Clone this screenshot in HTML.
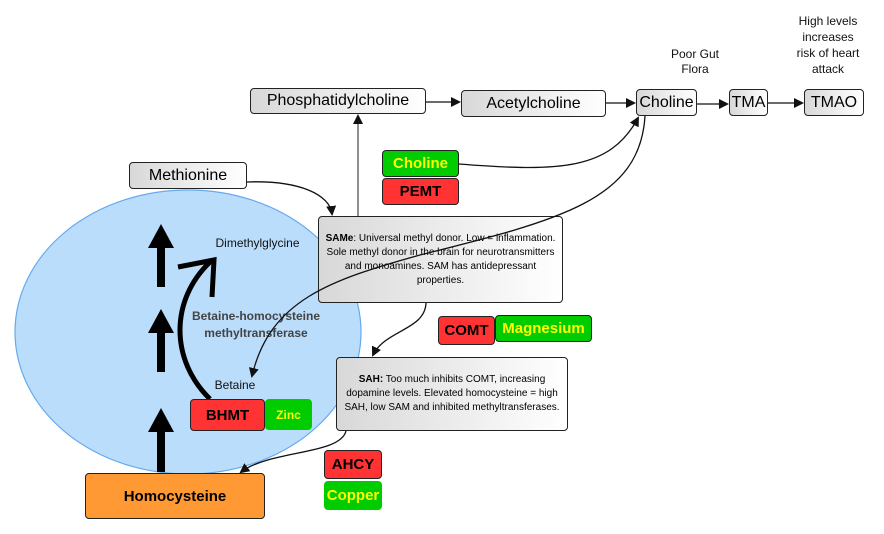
<!DOCTYPE html>
<html><head><meta charset="utf-8"><style>
body{margin:0;width:884px;height:534px;background:#fff;position:relative;overflow:hidden;font-family:"Liberation Sans",sans-serif}
.b{position:absolute;box-sizing:border-box;border:1.5px solid #222;border-radius:4px;display:flex;align-items:center;justify-content:center;text-align:center}
.g{background:linear-gradient(90deg,#d8d8d8,#fff)}
.gr{background:#00cc00;color:#ffff00;font-weight:bold}
.rd{background:#ff3333;color:#000;font-weight:bold}
.t{position:absolute;text-align:center;color:#111}
</style></head><body>
<svg width="884" height="534" style="position:absolute;left:0;top:0">
<defs><marker id="a" markerWidth="10" markerHeight="10" refX="8" refY="5" orient="auto" markerUnits="userSpaceOnUse"><path d="M0,0 L10,5 L0,10 z" fill="#111"/></marker></defs>
<ellipse cx="188" cy="332" rx="173" ry="142" fill="#bbddfc" stroke="#66aaee" stroke-width="1.2"/>
<g stroke="#111" stroke-width="1.3" fill="none">
<line x1="426" y1="102" x2="459" y2="102" marker-end="url(#a)"/>
<line x1="606" y1="103" x2="634" y2="103" marker-end="url(#a)"/>
<line x1="697" y1="104" x2="727" y2="104" marker-end="url(#a)"/>
<line x1="768" y1="103" x2="802" y2="103" marker-end="url(#a)"/>
<line x1="358" y1="216" x2="358" y2="116" stroke="#555" marker-end="url(#a)"/>
<path d="M247,182 C300,180 330,195 332,214" marker-end="url(#a)"/>
<path d="M459,164 C560,172 610,170 638,118" marker-end="url(#a)"/>
<path d="M426,303 C425,330 385,330 373,355" marker-end="url(#a)"/>
<path d="M346,431 C340,455 270,450 241,472" marker-end="url(#a)"/>
</g>
<g fill="#000">
<rect x="157" y="245" width="8" height="42"/><polygon points="148,248 174,248 161,224"/>
<rect x="157" y="330" width="8" height="42"/><polygon points="148,333 174,333 161,309"/>
<rect x="157" y="429" width="8" height="43"/><polygon points="148,432 174,432 161,408"/>
</g>
<path d="M210,399 C170,360 170,300 210,262" stroke="#000" stroke-width="5" fill="none"/>
<path d="M178,267 L214,260 L212,297" stroke="#000" stroke-width="5" fill="none"/>
</svg>
<div class="b g" style="left:250px;top:88px;width:176px;height:26px;font-size:16px">Phosphatidylcholine</div>
<div class="b g" style="left:461px;top:90px;width:145px;height:27px;font-size:16px">Acetylcholine</div>
<div class="b g" style="left:636px;top:89px;width:61px;height:27px;font-size:16px">Choline</div>
<div class="b g" style="left:729px;top:89px;width:39px;height:27px;font-size:16px">TMA</div>
<div class="b g" style="left:804px;top:89px;width:60px;height:27px;font-size:16px">TMAO</div>
<div class="t" style="left:660px;top:47px;width:70px;font-size:12px;line-height:15px">Poor Gut Flora</div>
<div class="t" style="left:795px;top:13px;width:66px;font-size:12px;line-height:16px">High levels increases risk of heart attack</div>
<div class="b g" style="left:129px;top:162px;width:118px;height:27px;font-size:16px">Methionine</div>
<div class="b gr" style="left:382px;top:150px;width:77px;height:27px;font-size:15px">Choline</div>
<div class="b rd" style="left:382px;top:178px;width:77px;height:27px;font-size:15px">PEMT</div>
<div class="b g" style="left:318px;top:216px;width:245px;height:87px;font-size:10px;line-height:14px;padding:4px">
<div><b>SAMe</b>: Universal methyl donor. Low = inflammation. Sole methyl donor in the brain for neurotransmitters and monoamines. SAM has antidepressant properties.</div></div>
<div class="b rd" style="left:438px;top:316px;width:57px;height:29px;font-size:15px">COMT</div>
<div class="b gr" style="left:495px;top:315px;width:97px;height:27px;font-size:15px">Magnesium</div>
<div class="b g" style="left:336px;top:357px;width:232px;height:74px;font-size:10px;line-height:14px;padding:4px">
<div><b>SAH:</b> Too much inhibits COMT, increasing dopamine levels. Elevated homocysteine = high SAH, low SAM and inhibited methyltransferases.</div></div>
<div class="t" style="left:200px;top:236px;width:115px;font-size:12px">Dimethylglycine</div>
<div class="t" style="left:176px;top:308px;width:160px;font-size:12px;font-weight:bold;color:#444;line-height:17px">Betaine-homocysteine methyltransferase</div>
<div class="t" style="left:205px;top:378px;width:60px;font-size:12px">Betaine</div>
<div class="b rd" style="left:190px;top:399px;width:75px;height:32px;font-size:15px">BHMT</div>
<div class="b gr" style="left:265px;top:399px;width:47px;height:31px;font-size:12px;border-color:#00cc00">Zinc</div>
<div class="b rd" style="left:324px;top:450px;width:58px;height:29px;font-size:15px">AHCY</div>
<div class="b gr" style="left:324px;top:481px;width:58px;height:29px;font-size:15px;border-color:#00cc00">Copper</div>
<div class="b" style="left:85px;top:473px;width:180px;height:46px;background:#ff9933;font-size:15px;font-weight:bold">Homocysteine</div>
<svg width="884" height="534" style="position:absolute;left:0;top:0">
<defs><marker id="a2" markerWidth="10" markerHeight="10" refX="8" refY="5" orient="auto" markerUnits="userSpaceOnUse"><path d="M0,0 L10,5 L0,10 z" fill="#111"/></marker></defs>
<path d="M645,116 C640,200 560,220 420,255 C330,280 270,300 252,376" stroke="#111" stroke-width="1.3" fill="none" marker-end="url(#a2)"/>
</svg>
</body></html>
